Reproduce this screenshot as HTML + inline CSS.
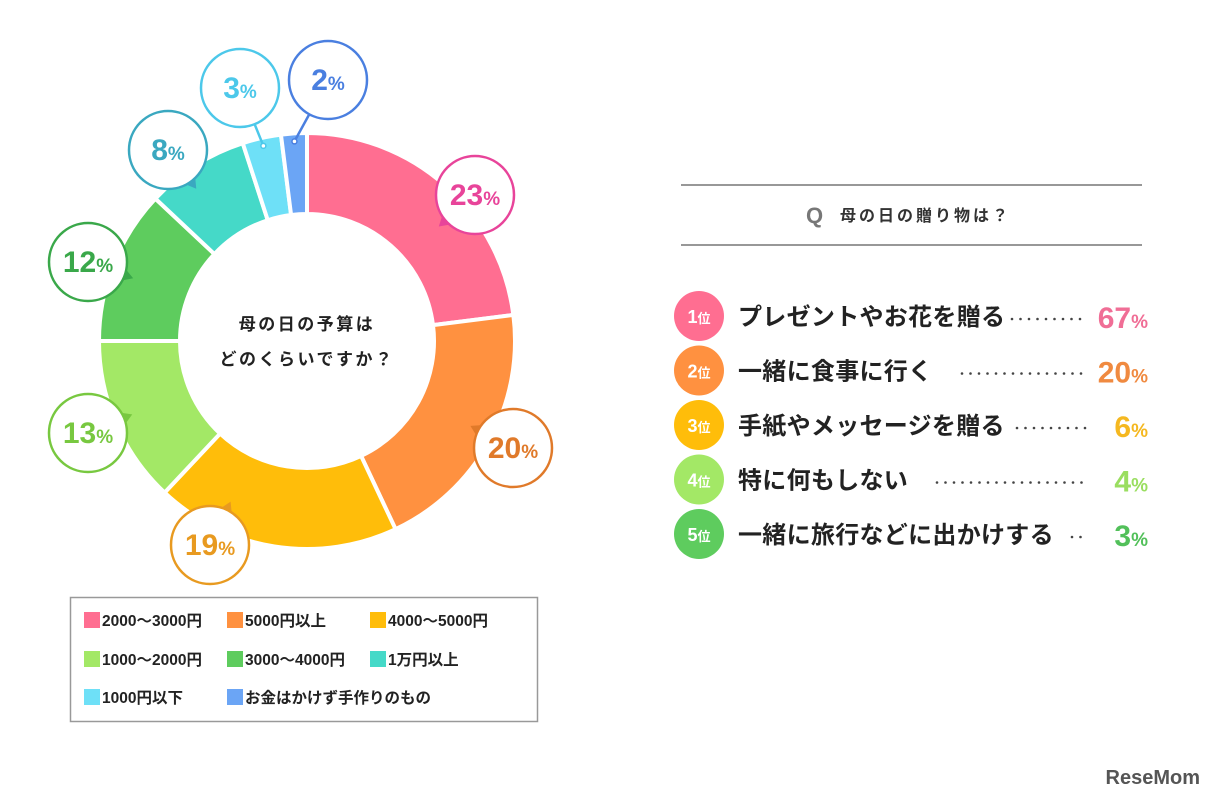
<!DOCTYPE html>
<html><head><meta charset="utf-8"><style>
body{margin:0;background:#fff;width:1214px;height:800px;overflow:hidden;font-family:"Liberation Sans","Noto Sans CJK JP",sans-serif}
svg{position:absolute;left:0;top:0}
text{font-family:"Liberation Sans","Noto Sans CJK JP",sans-serif;font-weight:bold}
</style></head><body>
<svg id="c" width="1214" height="800"></svg>
<script>
const categories=["2000〜3000円","5000円以上","4000〜5000円","1000〜2000円","3000〜4000円","1万円以上","1000円以下","お金はかけず手作りのもの"];
const values=[23,20,19,13,12,8,3,2];
const colors=["#ff6e91","#ff9140","#ffbd0a","#a3e866","#5ecc5e","#45d9c8","#6ee0f7","#6ba5f5"];
const strokes=["#e8449a","#e07a2a","#e89a20","#78c840","#3aa84a","#3aa8c0","#4cc8ea","#4a7fe0"];
const labelX=[475,513,210,88,88,168,240,328];
const labelY=[195,448,545,433,262,150,88,80];
const ranks=["1位","2位","3位","4位","5位"];
const rankLabels=["プレゼントやお花を贈る","一緒に食事に行く","手紙やメッセージを贈る","特に何もしない","一緒に旅行などに出かけする"];
const rankValues=[67,20,6,4,3];
const rankColors=["#ff6e91","#ff9140","#ffbd0a","#a3e866","#5ecc5e"];
const rankText=["#f06e96","#f08a40","#f5b820","#9ade60","#52c05a"];
const NS="http://www.w3.org/2000/svg";
const svg=document.getElementById('c');
function mk(t,a,p){const e=document.createElementNS(NS,t);for(const k in a)e.setAttribute(k,a[k]);(p||svg).appendChild(e);return e;}
const cx=307,cy=341,R=208,r0=127;
const total=values.reduce((a,b)=>a+b,0);
function pt(deg,rad){const a=(deg-90)*Math.PI/180;return [cx+rad*Math.cos(a),cy+rad*Math.sin(a)];}
let acc=0;const mids=[];
values.forEach((v,i)=>{
 const a0=acc/total*360,a1=(acc+v)/total*360;acc+=v;mids.push((a0+a1)/2);
 const p1=pt(a0,R),p2=pt(a1,R),p3=pt(a1,r0),p4=pt(a0,r0);const lg=(a1-a0)>180?1:0;
 const s=mk('path',{d:`M${p1}A${R},${R} 0 ${lg} 1 ${p2}L${p3}A${r0},${r0} 0 ${lg} 0 ${p4}Z`,fill:colors[i],stroke:'#fff','stroke-width':4});
 
 
});
mk('circle',{cx:cx,cy:cy,r:r0,fill:'#fff'});
const t1=mk('text',{x:cx,y:cy-11,'text-anchor':'middle','font-size':17,'letter-spacing':2.5,fill:'#222'});t1.textContent='母の日の予算は';

const t2=mk('text',{x:cx,y:cy+24,'text-anchor':'middle','font-size':17,'letter-spacing':2.5,fill:'#222'});t2.textContent='どのくらいですか？';

values.forEach((v,i)=>{
 const bx=labelX[i],by=labelY[i],br=39;
 const g=mk('g',{});
 
 
 if(i>=6){
  const [sx,sy]=pt(mids[i],R-8);
  const ang=Math.atan2(sy-by,sx-bx);
  mk('line',{x1:bx+Math.cos(ang)*br,y1:by+Math.sin(ang)*br,x2:sx,y2:sy,stroke:strokes[i],'stroke-width':2.5},g);
  mk('circle',{cx:sx,cy:sy,r:2.5,fill:'#fff',stroke:strokes[i],'stroke-width':1.5},g);
 }else{
  const ang=Math.atan2(cy-by,cx-bx),px=-Math.sin(ang),py=Math.cos(ang);
  const tx=bx+Math.cos(ang)*(br+9),ty=by+Math.sin(ang)*(br+9);
  const bx1=bx+Math.cos(ang)*(br-1),by1=by+Math.sin(ang)*(br-1);
  mk('polygon',{points:`${bx1+px*6},${by1+py*6} ${bx1-px*6},${by1-py*6} ${tx},${ty}`,fill:strokes[i]},g);
 }
 mk('circle',{cx:bx,cy:by,r:br,fill:'#fff',stroke:strokes[i],'stroke-width':2.5},g);
 const t=mk('text',{x:bx,y:by+10,'text-anchor':'middle','font-size':30,fill:strokes[i]},g);
 t.textContent=v;const ts=mk('tspan',{'font-size':19},t);ts.textContent='%';
});
const lg=mk('g',{});
mk('rect',{x:70.5,y:597.5,width:467,height:124,fill:'#fff',stroke:'#999','stroke-width':1.5},lg);
const lx=[84,227,370],ly=[620,659,697];
categories.forEach((c,i)=>{
 const x=lx[i%3],y=ly[Math.floor(i/3)];
 const e=mk('g',{},lg);
 mk('rect',{x:x,y:y-8,width:16,height:16,fill:colors[i]},e);
 const t=mk('text',{x:x+18,y:y+6,'font-size':15.5,fill:'#222'},e);t.textContent=c;
});
mk('line',{x1:681,y1:185,x2:1142,y2:185,stroke:'#777','stroke-width':1.5});
mk('line',{x1:681,y1:245,x2:1142,y2:245,stroke:'#777','stroke-width':1.5});
const q=mk('text',{x:806,y:223,'font-size':22,fill:'#777'});q.textContent='Q';

const qt=mk('text',{x:840,y:221,'font-size':16,'letter-spacing':3,fill:'#333'});qt.textContent='母の日の贈り物は？';

const dotW=[75,125,70,150,14],dotX=[1012,962,1017,937,1072];
ranks.forEach((rk,i)=>{
 const y=316+i*54.5;
 const g=mk('g',{});
 mk('circle',{cx:699,cy:y,r:25,fill:rankColors[i]},g);
 const rt=mk('text',{x:699,y:y+7,'text-anchor':'middle','font-size':18,fill:'#fff'},g);rt.textContent=rk[0];
 const rs=mk('tspan',{'font-size':13},rt);rs.textContent='位';
 const lt=mk('text',{x:738,y:y+9,'font-size':24,'letter-spacing':0.3,fill:'#222'},g);lt.textContent=rankLabels[i];
 for(let d=dotX[i];d<=dotX[i]+dotW[i];d+=8.5)mk('circle',{cx:d,cy:y+3,r:1.3,fill:'#444'},g);
 const vt=mk('text',{x:1148,y:y+12,'text-anchor':'end','font-size':30,fill:rankText[i]},g);vt.textContent=rankValues[i];
 const vs=mk('tspan',{'font-size':19},vt);vs.textContent='%';
});
const lo=mk('text',{x:1200,y:784,'text-anchor':'end','font-size':20,fill:'#555'});lo.textContent='ReseMom';

</script>
</body></html>
